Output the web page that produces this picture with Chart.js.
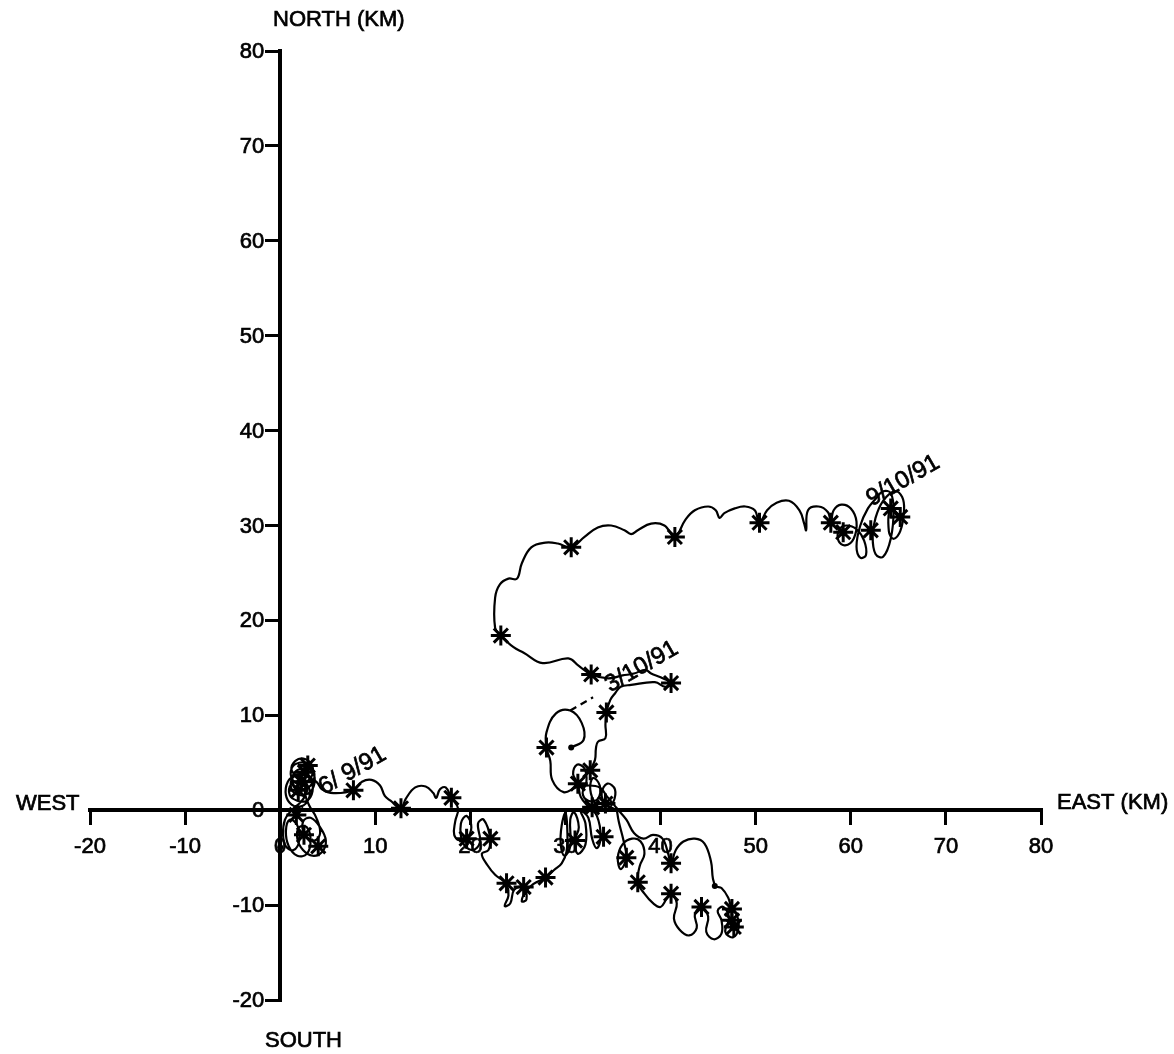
<!DOCTYPE html>
<html lang="en">
<head>
<meta charset="UTF-8" />
<title>Drifter track</title>
<style>
  body { margin: 0; background: #fff; }
  .chart-container { width: 1174px; height: 1054px; }
</style>
</head>
<body>
<div class="chart-container"><canvas id="trackChart"></canvas></div>
<script src="https://cdn.jsdelivr.net/npm/chart.js"></script>
<script>
// axis ticks (km)
const xTicks = [-20, -10, 0, 10, 20, 30, 40, 50, 60, 70, 80];
const yTicks = [-20, -10, 0, 10, 20, 30, 40, 50, 60, 70, 80];

// track, [east km, north km]
const trackWest = [
  [2.0, 3.4], [1.2, 4.2], [1.6, 5.2], [2.6, 5.4], [3.4, 4.6], [3.2, 3.4], [2.2, 2.8], [1.3, 3.2],
  [1.2, 4.4], [2.0, 5.0], [3.0, 4.8], [3.6, 3.8], [3.2, 2.6], [2.2, 2.2], [1.4, 2.6], [1.4, 3.8],
  [2.4, 4.4], [3.4, 4.0], [3.6, 2.8], [3.0, 1.8], [2.0, 1.6], [1.2, 2.2], [1.3, 3.4], [2.2, 3.8],
  [3.2, 3.2], [3.4, 2.0], [2.8, 1.0], [1.8, 1.0], [1.0, 1.6], [1.2, 2.8], [2.2, 3.0], [3.0, 2.4],
  [3.0, 1.2], [2.2, 0.4], [1.2, 0.6], [0.6, 1.6], [0.8, 3.0], [1.6, 3.6], [2.6, 3.2], [2.8, 2.0],
  [2.2, 0.9], [1.2, 0.0], [0.5, -1.0], [0.3, -2.6], [0.6, -3.8], [1.4, -4.2], [2.0, -3.2],
  [1.8, -1.6], [1.0, -1.0], [0.6, -2.2], [0.9, -3.8], [1.8, -4.8], [2.8, -4.6], [3.2, -3.2],
  [2.8, -1.8], [2.0, -1.8], [1.8, -3.0], [2.4, -4.2], [3.4, -4.8], [4.4, -4.4], [4.8, -3.2],
  [4.2, -1.8], [3.2, -0.8], [2.4, -1.2], [2.6, -2.6], [3.6, -3.2], [4.2, -2.4], [3.8, -0.8],
  [3.0, 0.6], [2.6, 2.0], [3.0, 3.2], [3.8, 3.0], [4.4, 2.2], [5.6, 1.8], [7.7, 2.1],
  [8.6, 3.0], [9.6, 3.2], [10.5, 2.6], [11.0, 1.5], [11.6, 1.0], [12.7, 0.2], [13.2, 1.2], [14.2, 2.4],
  [15.3, 2.5], [16.1, 1.8], [16.4, 1.3], [16.8, 2.2], [17.4, 2.4], [18.0, 1.3],
  [18.7, 0.2], [18.4, -1.2], [18.3, -2.6], [18.9, -3.2], [19.6, -3.0], [20.1, -1.8], [19.6, -0.6],
  [19.0, -1.4], [19.2, -3.4], [20.2, -4.2], [21.0, -3.4], [20.8, -1.4], [21.4, -1.0], [22.1, -3.0],
  [21.9, -4.2], [21.2, -4.6], [21.8, -5.8], [22.6, -6.8], [23.4, -7.4], [23.8, -7.7], [24.0, -9.0],
  [23.6, -10.1], [24.2, -9.8], [24.6, -8.4], [25.6, -8.1], [25.9, -9.4], [25.4, -9.6], [25.8, -8.6],
  [26.6, -7.8], [27.9, -7.1], [28.8, -6.3], [29.6, -5.6], [30.1, -4.4], [30.2, -2.4], [30.0, -0.3],
  [29.6, -1.6], [29.5, -3.6], [29.9, -4.8], [30.5, -3.8], [30.5, -1.0], [30.9, -0.2], [31.4, -1.8],
  [31.0, -3.2], [31.3, -4.6], [32.1, -3.6], [32.1, -1.4], [31.6, -0.1], [32.4, -0.8], [32.8, -3.0],
  [33.3, -4.0], [33.7, -2.8], [33.3, -0.6], [32.4, 0.4], [31.6, 1.4], [31.3, 2.8], [30.8, 3.8],
  [31.2, 4.8], [32.0, 4.4], [32.2, 3.0], [31.8, 1.8], [32.4, 1.0], [33.4, 1.2], [33.6, 2.6],
  [32.9, 3.4], [32.6, 2.2], [33.2, 0.6], [34.2, 0.0], [35.0, 0.8], [35.2, 2.2], [34.4, 2.8],
  [33.8, 1.8], [34.2, 0.7], [35.4, 0.0]
];
const trackSouthEast = [
  [35.4, 0.0], [35.6, -1.2], [36.1, -3.2], [36.4, -5.0], [35.8, -6.2], [35.5, -5.0], [36.0, -3.6],
  [37.0, -3.0], [37.9, -3.3], [38.3, -4.6], [37.8, -5.9], [37.6, -7.6], [38.3, -8.8], [39.2, -9.8],
  [40.0, -10.2], [40.6, -9.4], [41.1, -8.8], [41.7, -9.8], [41.4, -11.4], [42.0, -12.6], [43.0, -13.2],
  [43.8, -12.4], [43.6, -11.0], [44.3, -10.2], [45.0, -11.2], [44.8, -12.8], [45.6, -13.6],
  [46.4, -13.0], [46.4, -11.6], [46.0, -10.6], [46.6, -10.2], [47.2, -11.4], [46.8, -12.8],
  [47.6, -13.4], [48.2, -12.4], [48.0, -11.0], [47.5, -10.4], [47.1, -9.2], [46.4, -8.2],
  [45.8, -8.0], [45.5, -7.2], [45.3, -5.4], [44.6, -3.5], [43.6, -3.0], [42.4, -3.3], [41.6, -4.2],
  [41.1, -5.6], [40.8, -4.6], [40.2, -3.0], [39.2, -2.6], [38.2, -3.0], [37.2, -2.4], [36.4, -1.0],
  [35.4, 0.2], [34.4, 1.4], [33.6, 2.4], [32.2, 2.6], [31.1, 2.4], [29.8, 1.9], [28.6, 3.2],
  [28.4, 5.2], [28.0, 6.6], [28.0, 8.2], [29.0, 10.2], [30.5, 10.5], [31.7, 9.2], [31.9, 7.4], [30.6, 6.6]
];
const trackNorth = [
  [32.6, 4.2], [33.1, 5.3], [33.2, 6.5], [33.4, 7.2], [34.2, 7.6], [34.2, 9.0], [34.3, 10.3],
  [34.7, 11.6], [35.2, 12.3], [35.8, 13.0], [36.9, 13.2], [39.4, 13.5], [40.5, 13.0], [41.1, 13.4],
  [40.0, 14.0], [39.0, 14.4], [38.4, 14.8], [37.2, 14.4], [36.0, 14.2], [34.5, 13.9], [32.7, 14.3],
  [31.4, 15.2], [30.3, 16.0], [27.6, 15.5], [25.6, 16.6], [24.5, 17.2], [23.2, 18.4], [22.6, 19.2],
  [22.6, 22.4], [23.1, 23.8], [24.0, 24.4], [24.9, 24.4], [25.4, 26.0], [26.4, 27.7], [27.9, 28.2],
  [29.2, 28.1], [30.6, 27.7], [32.0, 28.8], [33.4, 29.8], [34.8, 30.0], [36.2, 29.5], [36.9, 29.1],
  [37.6, 29.5], [39.0, 30.2], [40.4, 30.0], [41.5, 28.8], [42.6, 30.6], [43.6, 31.6], [45.0, 32.0],
  [45.8, 31.6], [46.2, 30.8], [46.7, 31.3], [47.8, 31.8], [48.9, 32.0], [49.9, 31.6], [50.4, 30.3],
  [51.2, 31.6], [52.2, 32.4], [53.5, 32.6], [54.6, 31.6], [55.1, 30.2], [55.3, 29.5], [55.5, 31.6],
  [56.6, 32.0], [57.6, 31.4], [57.9, 30.3], [58.2, 31.6], [59.0, 32.2], [60.0, 31.8], [60.6, 30.4],
  [60.3, 28.6], [59.4, 27.9], [58.7, 28.4], [58.8, 29.6], [59.6, 30.0], [60.6, 29.6], [61.4, 28.4],
  [61.6, 26.9], [61.0, 26.6], [60.6, 27.8], [61.0, 30.0], [61.8, 31.8], [62.6, 32.8], [63.4, 33.6],
  [64.2, 33.4], [64.5, 31.6], [64.2, 28.6], [63.4, 26.7], [62.6, 27.0], [62.3, 28.8], [62.6, 30.8],
  [63.4, 32.6], [64.6, 33.6], [65.4, 33.0], [65.6, 31.6], [65.2, 29.4], [64.5, 28.6], [64.0, 29.4],
  [64.2, 31.8], [65.2, 30.9]
];
// gap in the record, drawn dashed
const trackGap = [[30.5, 10.5], [32.9, 11.9]];

// daily fixes (asterisks)
const dayMarks = [
  [2.9, 4.7], [2.6, 4.0], [2.2, 3.0], [1.9, 2.1], [1.7, -0.5], [2.5, -2.6], [4.0, -3.8],
  [7.7, 2.1], [12.7, 0.2], [18.0, 1.3], [19.6, -3.0], [22.1, -3.0], [23.8, -7.7], [25.6, -8.1],
  [27.9, -7.1], [31.0, -3.2], [31.3, 2.8], [32.6, 4.2], [34.2, 0.7], [34.0, -2.8], [32.8, 0.3],
  [36.4, -5.0], [37.6, -7.6], [41.1, -5.6], [41.1, -8.8], [44.3, -10.2], [47.5, -10.4],
  [47.5, -11.6], [47.7, -12.3], [28.0, 6.6], [34.3, 10.3], [41.1, 13.4], [32.7, 14.3], [23.2, 18.4],
  [30.6, 27.7], [41.5, 28.8], [50.4, 30.3], [57.9, 30.3], [59.2, 29.3], [62.1, 29.5], [64.2, 31.8],
  [65.2, 30.9]
];
const endDots = [[0.0, -3.9], [30.6, 6.6], [45.7, -8.0]];

const dateLabels = ['6/ 9/91', '3/10/91', '9/10/91'];
const dateAt = [[4.6, 1.6], [34.7, 12.4], [62.2, 32.0]];

const pts = (arr) => arr.map(([x, y]) => ({ x, y }));
const FONT = 'Liberation Sans, Arial, Helvetica, sans-serif';

function lineSet(data, dashed) {
  return {
    data: pts(data),
    showLine: true,
    borderColor: '#000',
    borderWidth: 2.2,
    borderDash: dashed ? [7, 5] : [],
    pointRadius: 0,
    tension: dashed ? 0 : 0.4,
    fill: false,
  };
}

// scanned lettering is heavier than a plain fill, so stroke it lightly too
function heavyText(ctx, t, x, y) {
  ctx.fillText(t, x, y);
  ctx.strokeText(t, x, y);
}

const labelsPlugin = {
  id: 'labels',
  afterDatasetsDraw(chart) {
    const ctx = chart.ctx;
    const sx = chart.scales.x;
    const sy = chart.scales.y;
    ctx.save();
    ctx.fillStyle = '#000';
    ctx.strokeStyle = '#000';
    ctx.lineWidth = 0.7;
    ctx.font = '22px ' + FONT;
    ctx.textBaseline = 'middle';
    ctx.textAlign = 'left';
    heavyText(ctx, 'NORTH (KM)', 273, 20);
    heavyText(ctx, 'SOUTH', 265, 1041);
    heavyText(ctx, 'WEST', 16, 804);
    heavyText(ctx, 'EAST (KM)', 1057, 803);
    // tick labels for the two centred axes
    const axisX = sx.getPixelForValue(0);
    const axisY = sy.getPixelForValue(0);
    ctx.textAlign = 'right';
    sy.ticks.forEach((t) => {
      heavyText(ctx, String(t.value), axisX - 16, sy.getPixelForValue(t.value) + 1);
    });
    ctx.textAlign = 'center';
    sx.ticks.forEach((t) => {
      heavyText(ctx, String(t.value), sx.getPixelForValue(t.value), axisY + 37);
    });
    ctx.textAlign = 'left';
    ctx.textBaseline = 'alphabetic';
    ctx.font = '24px ' + FONT;
    dateLabels.forEach((t, i) => {
      ctx.save();
      ctx.translate(sx.getPixelForValue(dateAt[i][0]), sy.getPixelForValue(dateAt[i][1]));
      ctx.rotate(-30 * Math.PI / 180);
      heavyText(ctx, t, 0, 0);
      ctx.restore();
    });
    ctx.restore();
  },
};

const axisOpts = (ticks, pos) => ({
  type: 'linear',
  min: -20,
  max: 80,
  position: pos,
  afterBuildTicks: (s) => { s.ticks = ticks.map((v) => ({ value: v })); },
  grid: { drawOnChartArea: false, drawTicks: true, tickLength: 13, lineWidth: 3, color: '#000' },
  border: { display: true, width: 4, color: '#000' },
  ticks: { display: false },
});

new Chart(document.getElementById('trackChart').getContext('2d'), {
  type: 'scatter',
  data: {
    datasets: [
      lineSet(trackWest),
      lineSet(trackSouthEast),
      lineSet(trackNorth),
      lineSet(trackGap, true),
      {
        data: pts(dayMarks),
        pointStyle: 'star',
        pointRadius: 10,
        borderWidth: 3,
        borderColor: '#000',
        backgroundColor: '#000',
      },
      {
        data: pts(endDots),
        pointStyle: 'circle',
        pointRadius: 3,
        borderWidth: 0,
        backgroundColor: '#000',
      },
    ],
  },
  options: {
    responsive: true,
    maintainAspectRatio: false,
    animation: false,
    layout: { padding: { left: 90, right: 133, top: 51, bottom: 54 } },
    plugins: { legend: { display: false }, tooltip: { enabled: false } },
    scales: {
      x: axisOpts(xTicks, { y: 0 }),
      y: axisOpts(yTicks, { x: 0 }),
    },
  },
  plugins: [labelsPlugin],
});
</script>
</body>
</html>
